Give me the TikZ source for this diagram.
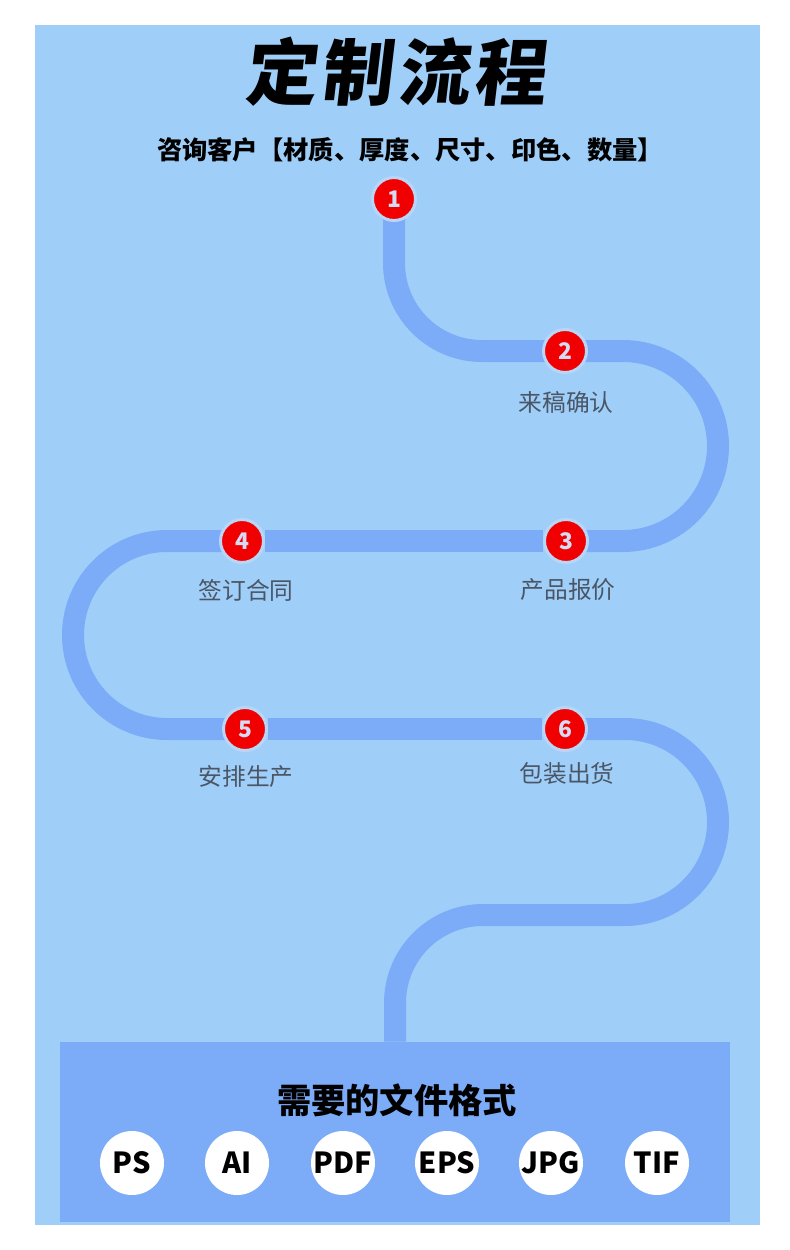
\documentclass[tikz,border=0pt]{standalone}
\usepackage{fontspec}
\usepackage{tikz}
\usetikzlibrary{positioning, backgrounds}
\newfontfamily\cjk{Noto Sans CJK SC}
\newfontfamily\titlefont{Noto Sans CJK SC}[FakeSlant=0.12, LetterSpace=6]
\definecolor{bgblue}{HTML}{9FCFF8}
\definecolor{pathblue}{HTML}{7CABF8}
\definecolor{stepred}{HTML}{F00000}
\definecolor{ringblue}{HTML}{BAD6F6}
\definecolor{digit}{HTML}{D6DAF3}
\definecolor{labelgray}{HTML}{4A5565}

\begin{document}
\begin{tikzpicture}[
  x=0.02cm, y=-0.02cm,
  track/.style={line width=0.44cm, draw=pathblue},
  stepdot/.style={circle, fill=stepred, draw=ringblue, line width=0.06cm, minimum size=0.86cm, inner sep=0pt, text=digit, font=\cjk\bfseries\fontsize{13}{13}\selectfont},
  steplabel/.style={text=labelgray, font=\cjk\fontsize{13.5}{14}\selectfont},
  fmt/.style={circle, fill=white, minimum size=1.28cm, inner sep=0pt, font=\cjk\bfseries\fontsize{16.5}{17}\selectfont},
]
\useasboundingbox (0,0) rectangle (790,1250);

% Heading
\node[font=\titlefont\bfseries\fontsize{41}{41}\selectfont] (title) at (395,72) {定制流程};
\node[font=\cjk\bfseries\fontsize{14.4}{15}\selectfont] (ask) at (410,150) {咨询客户【材质、厚度、尺寸、印色、数量】};

% Steps
\node[stepdot] (s1) at (394,199) {1};
\node[stepdot] (s2) at (565,351) {2};
\node[stepdot] (s3) at (566,541) {3};
\node[stepdot] (s4) at (242,541) {4};
\node[stepdot] (s5) at (245,729) {5};
\node[stepdot] (s6) at (565,729) {6};

\node[steplabel] (l2) at (566,402) {来稿确认};
\node[steplabel] (l3) at (568,590) {产品报价};
\node[steplabel] (l4) at (246,590) {签订合同};
\node[steplabel] (l5) at (246,777) {安排生产};
\node[steplabel] (l6) at (567,773) {包装出货};

% File formats
\node[fill=pathblue, minimum width=13.4cm, minimum height=3.6cm, inner sep=0pt] (files) at (395,1132) {};
\node[font=\cjk\bfseries\fontsize{19.5}{20}\selectfont] (need) at (397,1100) {需要的文件格式};
\foreach \t/\x in {PS/132, AI/237, PDF/343, EPS/447, JPG/551, TIF/657}
  \node[fmt] (f-\t) at (\x,1163) {\t};

% Track
\begin{scope}[on background layer]
\fill[bgblue] (35,25) rectangle (760,1225);
\draw[track, rounded corners=1.76cm] (s1.center) |- (s2.center);
\draw[track, rounded corners=1.9cm] (s2.center) -- (718,351) -- (718,541) -- (s3.center);
\draw[track] (s3) -- (s4);
\draw[track, rounded corners=1.88cm] (s4.center) -- (73,541) -- (73,729) -- (s5.center);
\draw[track] (s5) -- (s6);
\draw[track, rounded corners=1.86cm] (s6.center) -- (718,729) -- (718,915) -- (560,915);
\draw[track, rounded corners=1.76cm] (560,915) -- (395,915) -- (files.north);
\end{scope}
\end{tikzpicture}
\end{document}
